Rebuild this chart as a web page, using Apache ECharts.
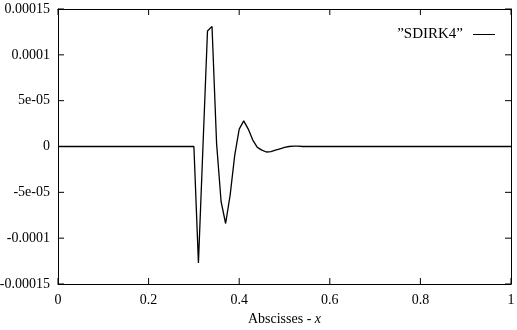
<!DOCTYPE html>
<html><head><meta charset="utf-8">
<script src="https://cdn.jsdelivr.net/npm/echarts@6/dist/echarts.min.js"></script>
<style>html,body{margin:0;padding:0;background:#fff}#c{width:517px;height:330px}</style>
</head><body><div id="c"></div>
<script>
// Data
const xs = [0, 0.30, 0.31, 0.32, 0.33, 0.34, 0.35, 0.36, 0.37, 0.38, 0.39, 0.40, 0.41, 0.42, 0.43, 0.44, 0.45, 0.46, 0.47, 0.48, 0.49, 0.50, 0.51, 0.52, 0.53, 0.54, 1];
const ys = [0, 0, -1.27e-4, 0, 1.26e-4, 1.31e-4, 4e-6, -6.0e-5, -8.4e-5, -5.3e-5, -1.0e-5, 1.9e-5, 2.8e-5, 1.9e-5, 7e-6, -1e-6, -4e-6, -6e-6, -5.5e-6, -4e-6, -2.5e-6, -1e-6, 0, 5e-7, 5e-7, 0, 0];
const seriesName = '\u201DSDIRK4\u201D';
const xTickValues = [0, 0.2, 0.4, 0.6, 0.8, 1];
const xTickLabels = ['0', '0.2', '0.4', '0.6', '0.8', '1'];
const yTickValues = [-0.00015, -0.0001, -0.00005, 0, 0.00005, 0.0001, 0.00015];
const yTickLabels = ['-0.00015', '-0.0001', '-5e-05', '0', '5e-05', '0.0001', '0.00015'];

const font = 'Liberation Serif';
const X_MIN = 0, X_MAX = 1, Y_MIN = -0.00015, Y_MAX = 0.00015, TICK = 6;
const chart = echarts.init(document.getElementById('c'), null, {renderer: 'canvas'});
const axisLine = () => ({show: true, onZero: false, lineStyle: {color: '#000', width: 1}});
const tickStyle = {stroke: '#000', lineWidth: 1};

function xTickItem(params, api) {
  const v = api.value(0);
  const b = api.coord([v, Y_MIN]), t = api.coord([v, Y_MAX]);
  return {type: 'group', children: [
    {type: 'line', shape: {x1: b[0], y1: b[1], x2: b[0], y2: b[1] - TICK}, style: tickStyle},
    {type: 'line', shape: {x1: t[0], y1: t[1], x2: t[0], y2: t[1] + TICK}, style: tickStyle}
  ]};
}
function yTickItem(params, api) {
  const v = api.value(1);
  const l = api.coord([X_MIN, v]), r = api.coord([X_MAX, v]);
  return {type: 'group', children: [
    {type: 'line', shape: {x1: l[0], y1: l[1], x2: l[0] + TICK, y2: l[1]}, style: tickStyle},
    {type: 'line', shape: {x1: r[0], y1: r[1], x2: r[0] - TICK, y2: r[1]}, style: tickStyle}
  ]};
}

chart.setOption({
  animation: false,
  backgroundColor: '#fff',
  grid: {left: 58, right: 6, top: 9, bottom: 46, containLabel: false, outerBoundsMode: 'none'},
  legend: {
    top: 27, right: 22, padding: 0, align: 'right', icon: 'rect', itemWidth: 22, itemHeight: 1, itemGap: 0,
    textStyle: {fontFamily: font, fontSize: 15, color: '#000', padding: [0, 5, 0, 0]},
    data: [{name: seriesName, itemStyle: {color: '#000'}}]
  },
  xAxis: [{
    type: 'value', min: X_MIN, max: X_MAX, interval: 0.2,
    axisLine: axisLine(), axisTick: {show: false}, splitLine: {show: false},
    axisLabel: {fontFamily: font, fontSize: 14, color: '#000', margin: 9,
      formatter: v => xTickLabels[Math.round(v / 0.2)]},
    name: '{n|Abscisses - }{i|x}', nameLocation: 'middle', nameGap: 28,
    nameTextStyle: {rich: {n: {fontFamily: font, fontSize: 14, color: '#000'}, i: {fontFamily: font, fontSize: 14, fontStyle: 'italic', color: '#000'}}}
  }, {
    type: 'value', min: X_MIN, max: X_MAX, interval: 0.2, position: 'top',
    axisLine: axisLine(), axisTick: {show: false}, splitLine: {show: false}, axisLabel: {show: false}
  }],
  yAxis: [{
    type: 'value', min: Y_MIN, max: Y_MAX, interval: 0.00005,
    axisLine: axisLine(), axisTick: {show: false}, splitLine: {show: false},
    axisLabel: {fontFamily: font, fontSize: 14, color: '#000', margin: 8,
      formatter: v => yTickLabels[Math.round(v / 0.00005) + 3]}
  }, {
    type: 'value', min: Y_MIN, max: Y_MAX, interval: 0.00005, position: 'right',
    axisLine: axisLine(), axisTick: {show: false}, splitLine: {show: false}, axisLabel: {show: false}
  }],
  series: [{
    name: seriesName, type: 'line', showSymbol: false, symbol: 'none',
    data: xs.map((x, i) => [x, ys[i]]),
    lineStyle: {color: '#000', width: 1.3}, itemStyle: {color: '#000'}, z: 3
  }, {
    name: 'xticks', type: 'custom', clip: false, silent: true, z: 2,
    renderItem: xTickItem, data: xTickValues.map(v => [v, 0])
  }, {
    name: 'yticks', type: 'custom', clip: false, silent: true, z: 2,
    renderItem: yTickItem, data: yTickValues.map(v => [0, v])
  }]
});
</script></body></html>
